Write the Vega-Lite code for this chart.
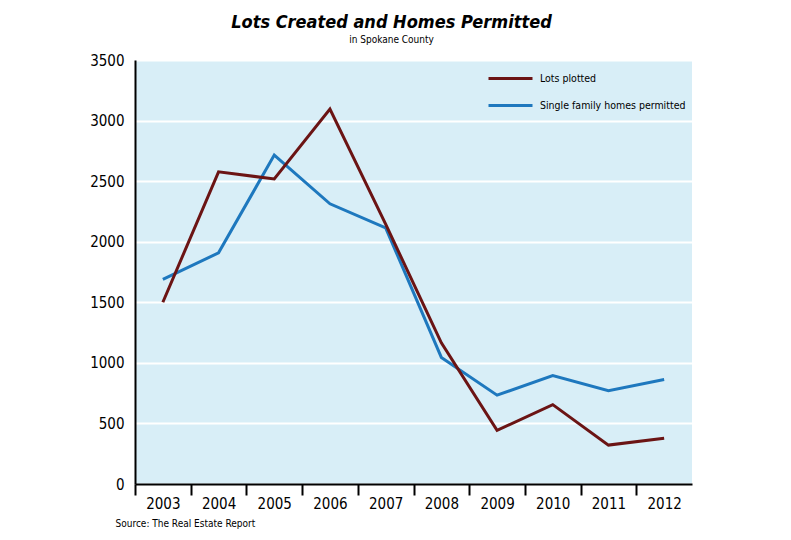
{
  "$schema": "https://vega.github.io/schema/vega-lite/v6.json",
  "width": 557,
  "height": 424,
  "autosize": {"type": "none"},
  "padding": {"left": 135, "top": 60, "right": 99, "bottom": 56},
  "background": "white",
  "title": {
    "text": "Lots Created and Homes Permitted",
    "subtitle": "in Spokane County",
    "font": "DejaVu Sans Condensed",
    "fontSize": 18,
    "fontWeight": "bold",
    "fontStyle": "italic",
    "color": "black",
    "subtitleFont": "DejaVu Sans Condensed",
    "subtitleFontSize": 10,
    "subtitleColor": "black",
    "subtitlePadding": 3,
    "anchor": "middle",
    "dx": -22,
    "offset": 8
  },
  "data": {
    "values": [
      {"year": "2003", "series": "Single family homes permitted", "value": 1689},
      {"year": "2004", "series": "Single family homes permitted", "value": 1908},
      {"year": "2005", "series": "Single family homes permitted", "value": 2715},
      {"year": "2006", "series": "Single family homes permitted", "value": 2313},
      {"year": "2007", "series": "Single family homes permitted", "value": 2115},
      {"year": "2008", "series": "Single family homes permitted", "value": 1045},
      {"year": "2009", "series": "Single family homes permitted", "value": 733},
      {"year": "2010", "series": "Single family homes permitted", "value": 895},
      {"year": "2011", "series": "Single family homes permitted", "value": 770},
      {"year": "2012", "series": "Single family homes permitted", "value": 862},
      {"year": "2003", "series": "Lots plotted", "value": 1500},
      {"year": "2004", "series": "Lots plotted", "value": 2577},
      {"year": "2005", "series": "Lots plotted", "value": 2518},
      {"year": "2006", "series": "Lots plotted", "value": 3095},
      {"year": "2007", "series": "Lots plotted", "value": 2145},
      {"year": "2008", "series": "Lots plotted", "value": 1165},
      {"year": "2009", "series": "Lots plotted", "value": 443},
      {"year": "2010", "series": "Lots plotted", "value": 655},
      {"year": "2011", "series": "Lots plotted", "value": 321},
      {"year": "2012", "series": "Lots plotted", "value": 377}
    ]
  },
  "mark": {"type": "line", "strokeWidth": 3},
  "encoding": {
    "x": {
      "field": "year",
      "type": "ordinal",
      "scale": {"type": "point", "padding": 0.5},
      "axis": {
        "title": "Source: The Real Estate Report",
        "titleFont": "DejaVu Sans Condensed",
        "titleFontSize": 10,
        "titleFontWeight": "normal",
        "titleColor": "black",
        "titleX": -20,
        "titleY": 42,
        "titleAlign": "left",
        "titleBaseline": "alphabetic",
        "labelAngle": 0,
        "labelFont": "DejaVu Sans Condensed",
        "labelFontSize": 15,
        "labelColor": "black",
        "labelPadding": 1,
        "tickOffset": -27.85,
        "labelOffset": 27.85,
        "tickSize": 11,
        "tickWidth": 2,
        "tickColor": "black",
        "domainColor": "black",
        "domainWidth": 2,
        "grid": false
      }
    },
    "y": {
      "field": "value",
      "type": "quantitative",
      "scale": {"domain": [0, 3500], "nice": false},
      "axis": {
        "title": null,
        "format": "d",
        "values": [0, 500, 1000, 1500, 2000, 2500, 3000, 3500],
        "labelFont": "DejaVu Sans Condensed",
        "labelFontSize": 15,
        "labelColor": "black",
        "labelPadding": 11,
        "ticks": false,
        "tickSize": 0,
        "domainColor": "black",
        "domainWidth": 2,
        "grid": true,
        "gridColor": "white",
        "gridWidth": 2,
        "gridOpacity": 1
      }
    },
    "color": {
      "field": "series",
      "type": "nominal",
      "scale": {
        "domain": ["Lots plotted", "Single family homes permitted"],
        "range": ["#6b1414", "#1e78be"]
      },
      "legend": {
        "title": null,
        "orient": "none",
        "legendX": 360,
        "legendY": 3,
        "padding": 0,
        "rowPadding": 5,
        "symbolType": "M-1.571,0H1.571",
        "symbolSize": 784,
        "symbolStrokeWidth": 3,
        "labelOffset": 14,
        "labelFont": "DejaVu Sans Condensed",
        "labelFontSize": 10.5,
        "labelColor": "black"
      }
    }
  },
  "config": {
    "view": {"fill": "#d8eef7", "stroke": null}
  }
}
